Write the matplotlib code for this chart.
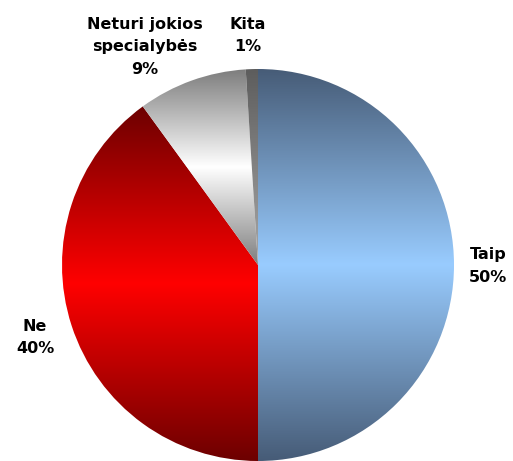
import numpy as np
import matplotlib
matplotlib.use("Agg")
import matplotlib.pyplot as plt
from matplotlib.colors import LinearSegmentedColormap

labels = ["Taip", "Ne", "Neturi jokios\nspecialybės", "Kita"]
values = [50, 40, 9, 1]

# gradient stops per slice: (edge colour, middle colour, mirrored)
gradients = [
    ("#465b76", "#99ccff", True),
    ("#6c0000", "#ff0000", True),
    ("#7c7c7c", "#ffffff", True),
    ("#5c5c5c", "#a8a8a8", False),
]

W, H = 513, 461
cx, cy, R = 258, H - 265, 196

fig = plt.figure(figsize=(W / 100, H / 100), dpi=100)
ax = fig.add_axes([0, 0, 1, 1])

wedges, _ = ax.pie(values, startangle=90, counterclock=False,
                   center=(cx, cy), radius=R,
                   wedgeprops=dict(facecolor="none", edgecolor="none"))
ax.set_xlim(0, W)
ax.set_ylim(0, H)
ax.set_aspect("equal")
ax.axis("off")

for w, (edge, mid, mirrored) in zip(wedges, gradients):
    th = np.radians(np.linspace(w.theta1, w.theta2, 400))
    ys = np.concatenate([cy + R * np.sin(th), [cy]])
    xs = np.concatenate([cx + R * np.cos(th), [cx]])
    y0, y1 = ys.min(), ys.max()
    x0, x1 = xs.min(), xs.max()
    if mirrored:
        cmap = LinearSegmentedColormap.from_list("g", [edge, mid, edge])
    else:
        cmap = LinearSegmentedColormap.from_list("g", [mid, edge])
    grad = np.linspace(0, 1, 512).reshape(-1, 1)
    im = ax.imshow(grad, cmap=cmap, aspect="auto", origin="lower",
                   extent=(x0 - 1, x1 + 1, y0 - 1, y1 + 1),
                   interpolation="bilinear", zorder=1)
    im.set_clip_path(w)

txt = dict(ha="center", va="center", fontsize=11.5, fontweight="bold",
           family="DejaVu Sans", linespacing=1.62, color="black")
ax.text(488, H - 266, "Taip\n50%", **txt)
ax.text(35, H - 337.5, "Ne\n40%", **txt)
ax.text(145, H - 47, "Neturi jokios\nspecialybės\n9%", **txt)
ax.text(248, H - 35.5, "Kita\n1%", **txt)

fig.savefig("out.png", dpi=100, facecolor="white")
